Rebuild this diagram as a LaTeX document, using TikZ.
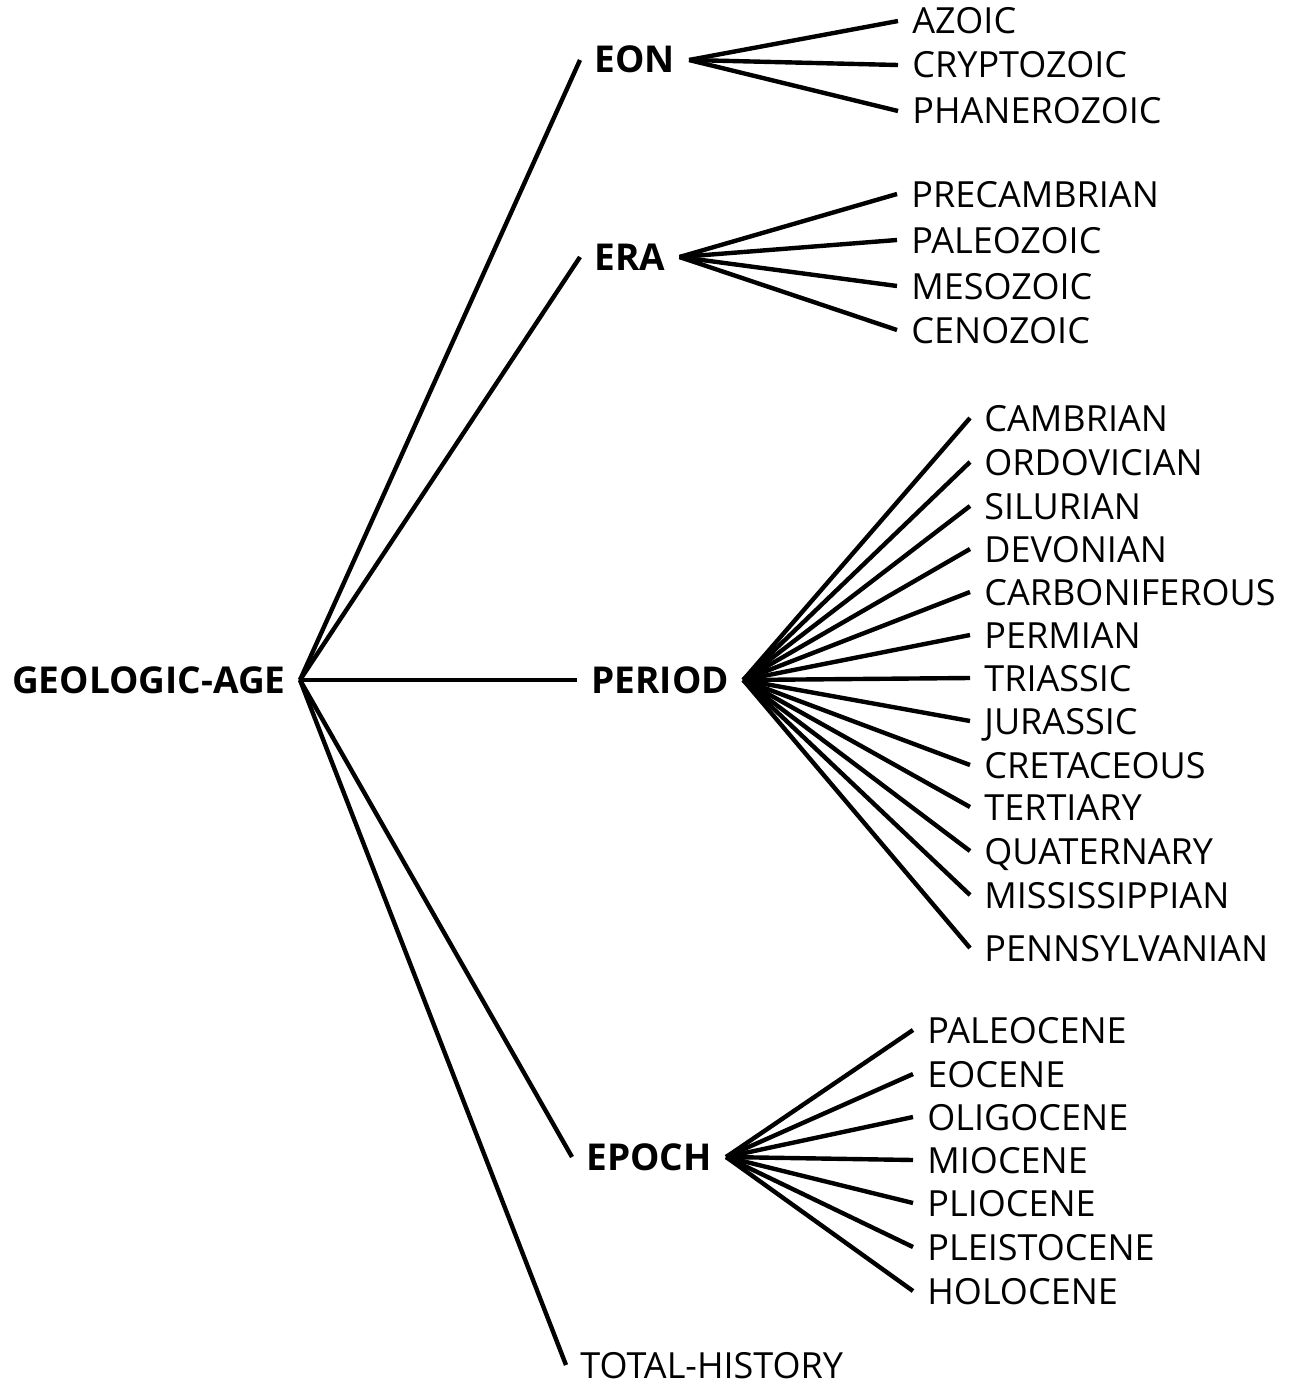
\documentclass[tikz,border=0pt]{standalone}
\usepackage{fontspec}
\setmainfont{Open Sans}
\usepackage{tikz}
\usetikzlibrary{positioning}
\tikzset{
  term/.style={inner xsep=7pt, inner ysep=0pt, text height=13pt, text depth=0pt,
               font=\fontsize{18}{20}\selectfont},
  rank/.style={term, font=\fontsize{18.5}{20}\selectfont\bfseries},
  leaf/.style={term, anchor=west},
  link/.style={line width=2.2pt},
}

\begin{document}
\begin{tikzpicture}[x=0.5pt, y=-0.5pt]
  \useasboundingbox (0,0) rectangle (1294,1386);
  % root and ranks
  \node[rank, anchor=east] (age) at (300,680) {GEOLOGIC-AGE};
  \node[rank, anchor=west] (eon) at (580,60) {EON};
  \node[rank, anchor=west] (era) at (580,257) {ERA};
  \node[rank, anchor=west] (period) at (577,680) {PERIOD};
  \node[rank, anchor=west] (epoch) at (572,1157) {EPOCH};
  \node[term, anchor=west] (total) at (566,1365) {TOTAL-HISTORY};
  % eons
  \node[leaf] (azoic) at (898,21) {AZOIC};
  \node[leaf] (crypto) at (898,65) {CRYPTOZOIC};
  \node[leaf] (phanero) at (898,111) {PHANEROZOIC};
  % eras
  \node[leaf] (precamb) at (897,194) {PRECAMBRIAN};
  \node[leaf] (paleoz) at (897,240) {PALEOZOIC};
  \node[leaf] (mesoz) at (897,286) {MESOZOIC};
  \node[leaf] (cenoz) at (897,330) {CENOZOIC};
  % periods
  \node[leaf] (cambr) at (970,418) {CAMBRIAN};
  \node[leaf] (ordov) at (970,462) {ORDOVICIAN};
  \node[leaf] (silur) at (970,506) {SILURIAN};
  \node[leaf] (devon) at (970,549) {DEVONIAN};
  \node[leaf] (carbon) at (970,592) {CARBONIFEROUS};
  \node[leaf] (perm) at (970,635) {PERMIAN};
  \node[leaf] (trias) at (970,678) {TRIASSIC};
  \node[leaf] (juras) at (970,721) {JURASSIC};
  \node[leaf] (cretac) at (970,765) {CRETACEOUS};
  \node[leaf] (tert) at (970,807) {TERTIARY};
  \node[leaf] (quat) at (970,851) {QUATERNARY};
  \node[leaf] (missis) at (970,895) {MISSISSIPPIAN};
  \node[leaf] (pennsy) at (970,948) {PENNSYLVANIAN};
  % epochs
  \node[leaf] (paleoc) at (913,1030) {PALEOCENE};
  \node[leaf] (eoc) at (913,1074) {EOCENE};
  \node[leaf] (oligoc) at (913,1117) {OLIGOCENE};
  \node[leaf] (mioc) at (913,1160) {MIOCENE};
  \node[leaf] (plioc) at (913,1203) {PLIOCENE};
  \node[leaf] (pleist) at (913,1247) {PLEISTOCENE};
  \node[leaf] (holoc) at (913,1291) {HOLOCENE};
  % links from the root
  \draw[link] (age.east) -- (eon.west);
  \draw[link] (age.east) -- (era.west);
  \draw[link] (age.east) -- (period.west);
  \draw[link] (age.east) -- (epoch.west);
  \draw[link] (age.east) -- (total.west);
  % fans
  \draw[link] (eon.east) -- (azoic.west);
  \draw[link] (eon.east) -- (crypto.west);
  \draw[link] (eon.east) -- (phanero.west);
  \draw[link] (era.east) -- (precamb.west);
  \draw[link] (era.east) -- (paleoz.west);
  \draw[link] (era.east) -- (mesoz.west);
  \draw[link] (era.east) -- (cenoz.west);
  \draw[link] (period.east) -- (cambr.west);
  \draw[link] (period.east) -- (ordov.west);
  \draw[link] (period.east) -- (silur.west);
  \draw[link] (period.east) -- (devon.west);
  \draw[link] (period.east) -- (carbon.west);
  \draw[link] (period.east) -- (perm.west);
  \draw[link] (period.east) -- (trias.west);
  \draw[link] (period.east) -- (juras.west);
  \draw[link] (period.east) -- (cretac.west);
  \draw[link] (period.east) -- (tert.west);
  \draw[link] (period.east) -- (quat.west);
  \draw[link] (period.east) -- (missis.west);
  \draw[link] (period.east) -- (pennsy.west);
  \draw[link] (epoch.east) -- (paleoc.west);
  \draw[link] (epoch.east) -- (eoc.west);
  \draw[link] (epoch.east) -- (oligoc.west);
  \draw[link] (epoch.east) -- (mioc.west);
  \draw[link] (epoch.east) -- (plioc.west);
  \draw[link] (epoch.east) -- (pleist.west);
  \draw[link] (epoch.east) -- (holoc.west);
\end{tikzpicture}
\end{document}
